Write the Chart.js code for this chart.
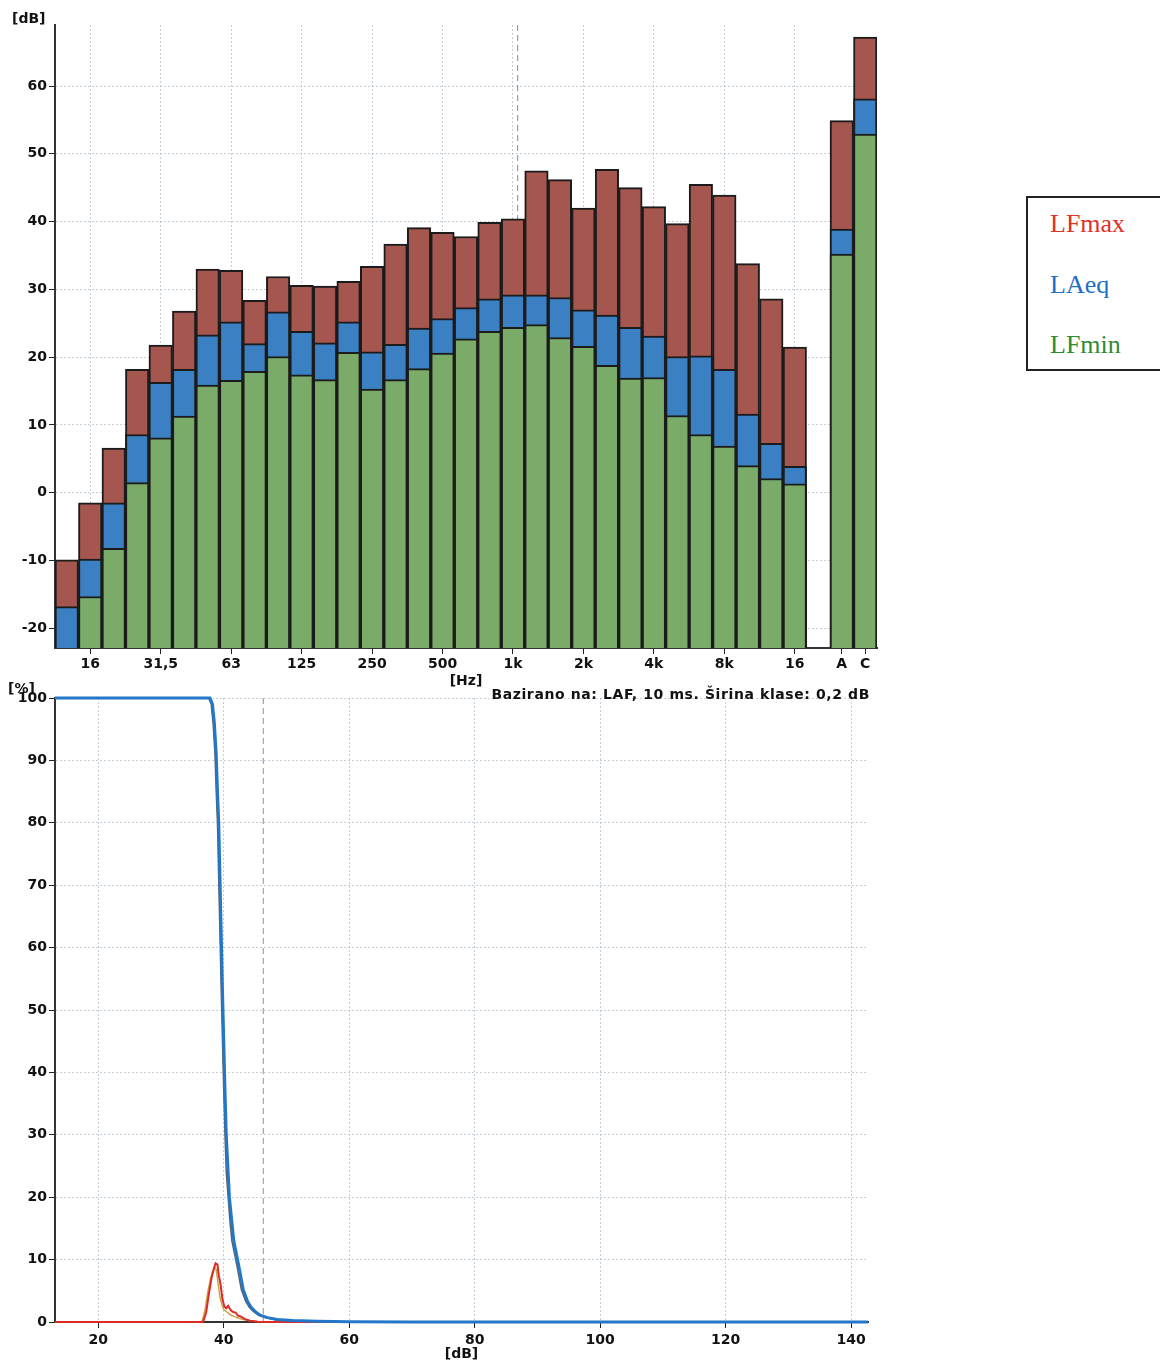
<!DOCTYPE html>
<html>
<head>
<meta charset="utf-8">
<title>Spektar i statistika</title>
<script src="https://cdn.jsdelivr.net/npm/chart.js@4.4.1/dist/chart.umd.min.js"></script>
<style>
  body { margin: 0; background: #fff; width: 1160px; height: 1363px; position: relative; overflow: hidden; }
  canvas { position: absolute; left: 0; }
  #spectrum { top: 0; }
  #stats { top: 680px; }
  .unit { position: absolute; font: bold 14px "DejaVu Sans", sans-serif; color: #111; white-space: nowrap; line-height: 14px; }
  #legend { position: absolute; left: 1026px; top: 196px; width: 150px; height: 175px; border: 2px solid #222; box-sizing: border-box; }
  #legend div { position: absolute; left: 22px; font: 26px "Liberation Serif", serif; line-height: 26px; }
</style>
</head>
<body>
<canvas id="spectrum" width="880" height="690"></canvas>
<canvas id="stats" width="880" height="683"></canvas>

<div class="unit" style="left:12px; top:11px;">[dB]</div>
<div class="unit" style="left:8px; top:681px;">[%]</div>
<div class="unit" style="right:290px; top:687px; letter-spacing:0.6px;">Bazirano na: LAF, 10 ms. Širina klase: 0,2 dB</div>

<div id="legend">
  <div style="top:13px; color:#e0302a;">LFmax</div>
  <div style="top:74px; color:#1e6ec6;">LAeq</div>
  <div style="top:134px; color:#2f8a34;">LFmin</div>
</div>

<script>
// 1/3 octave bands, an empty slot, then the A and C totals
const bands = ['12,5', '16', '20', '25', '31,5', '40', '50', '63', '80', '100', '125', '160',
  '200', '250', '315', '400', '500', '630', '800', '1k', '1,25k', '1,6k', '2k', '2,5k',
  '3,15k', '4k', '5k', '6,3k', '8k', '10k', '12,5k', '16k', '', 'A', 'C'];
const bandTicks = ['', '16', '', '', '31,5', '', '', '63', '', '', '125', '', '', '250', '', '',
  '500', '', '', '1k', '', '', '2k', '', '', '4k', '', '', '8k', '', '', '16', '', 'A', 'C'];

const lfMax = [-9.9, -1.5, 6.6, 18.2, 21.8, 26.8, 33.0, 32.8, 28.4, 31.9, 30.6, 30.5,
  31.2, 33.4, 36.7, 39.1, 38.4, 37.8, 39.9, 40.4, 47.5, 46.2, 42.0, 47.7,
  45.0, 42.2, 39.7, 45.5, 43.9, 33.8, 28.6, 21.5, null, 54.9, 67.2];
const laEq = [-16.8, -9.8, -1.5, 8.6, 16.3, 18.2, 23.3, 25.2, 22.0, 26.7, 23.8, 22.1,
  25.2, 20.8, 21.9, 24.3, 25.7, 27.3, 28.6, 29.2, 29.2, 28.8, 27.0, 26.2,
  24.4, 23.1, 20.1, 20.2, 18.2, 11.6, 7.3, 3.9, null, 38.9, 58.1];
const lfMin = [-25, -15.3, -8.2, 1.5, 8.1, 11.3, 15.9, 16.6, 17.9, 20.1, 17.4, 16.7,
  20.7, 15.3, 16.7, 18.3, 20.6, 22.7, 23.8, 24.4, 24.8, 22.9, 21.6, 18.8,
  16.9, 17.0, 11.4, 8.6, 6.9, 4.0, 2.1, 1.3, null, 35.2, 52.9];

const dbMin = -22.9, dbMax = 69;
const bandCursor = 19.2;

// level statistics (LAF), class width 0.2 dB
const cumDb = [13.1, 37.8, 38.2, 38.5, 38.8, 39.0, 39.2, 39.4, 39.6, 39.8, 40.0, 40.2, 40.4,
  40.7, 40.9, 41.3, 41.6, 42.0, 42.5, 43.1, 43.8, 44.4, 45.0, 45.8, 47.0, 48.5, 51, 55, 60, 70, 142.7];
const cumPct = [100, 100, 99, 96, 91, 85, 80, 71, 62, 53, 45, 37, 30,
  24, 20, 16, 13, 11, 8.5, 5.2, 3.3, 2.3, 1.7, 1.1, 0.7, 0.4, 0.25, 0.12, 0.05, 0.02, 0];
const cum2Db = [13.1, 37.6, 38.0, 38.3, 38.6, 38.8, 39.0, 39.2, 39.4, 39.6, 39.8, 40.0, 40.2,
  40.4, 40.7, 41.0, 41.3, 41.7, 42.2, 42.8, 43.5, 44.1, 44.7, 45.5, 46.6, 48, 50, 54, 60];
const cum2Pct = [100, 100, 99, 96, 91, 85, 80, 71, 62, 53, 45, 37, 30,
  24, 20, 16, 13, 11, 8.5, 5.2, 3.3, 2.3, 1.7, 1.1, 0.7, 0.4, 0.2, 0.1, 0.03];
const distDb = [13.1, 36.7, 37.2, 37.6, 38.1, 38.5, 38.7, 39.0, 39.2, 39.5, 39.8, 40.1, 40.4,
  40.7, 41.1, 41.5, 41.9, 42.3, 42.7, 43.3, 44.2, 45.5, 47, 142.7];
const distPct = [0, 0, 1.5, 4.3, 7.3, 8.8, 9.4, 9.2, 7.5, 6.0, 3.6, 2.5, 2.2,
  2.6, 1.9, 1.6, 1.5, 1.0, 0.9, 0.5, 0.2, 0.05, 0, 0];
const dist2Db = [13.1, 36.5, 37.0, 37.4, 37.9, 38.3, 38.5, 38.8, 39.1, 39.4, 39.7, 40.0,
  40.5, 41.0, 41.6, 42.4, 43.4, 45, 47];
const dist2Pct = [0, 0, 1.8, 4.5, 7.0, 8.3, 8.8, 8.4, 6.2, 4.0, 2.8, 2.0,
  1.6, 1.2, 0.9, 0.6, 0.3, 0.1, 0];
const levelCursor = 46.3;

const tickFont = { family: 'DejaVu Sans', size: 14, weight: 'bold' };
const gridColor = 'rgba(150,165,190,0.55)';

const toPoints = (xs, ys) => xs.map((x, i) => ({ x: x, y: ys[i] }));

// dashed vertical cursor behind the data
const cursorLine = {
  id: 'cursorLine',
  beforeDatasetsDraw(chart, args, opts) {
    const { ctx, chartArea, scales } = chart;
    const x = scales.x.getPixelForValue(opts.value);
    ctx.save();
    ctx.strokeStyle = opts.color;
    ctx.lineWidth = 1;
    ctx.setLineDash([6, 4]);
    ctx.beginPath();
    ctx.moveTo(x, chartArea.top);
    ctx.lineTo(x, chartArea.bottom);
    ctx.stroke();
    ctx.restore();
  }
};

const barStyle = { borderColor: '#1b1b1b', borderWidth: 2, grouped: false, base: dbMin,
  categoryPercentage: 1, barPercentage: 1 };

new Chart(document.getElementById('spectrum'), {
  type: 'bar',
  data: {
    labels: bands,
    datasets: [
      Object.assign({ label: 'LFmax', data: lfMax, backgroundColor: '#a5564f', order: 3 }, barStyle),
      Object.assign({ label: 'LAeq', data: laEq, backgroundColor: '#3a80c3', order: 2 }, barStyle),
      Object.assign({ label: 'LFmin', data: lfMin, backgroundColor: '#7aab69', order: 1 }, barStyle)
    ]
  },
  options: {
    responsive: false,
    animation: false,
    layout: { padding: { top: 25, right: 3, left: 0, bottom: 0 } },
    plugins: {
      legend: { display: false },
      tooltip: { enabled: false },
      cursorLine: { value: bandCursor, color: '#8a8a8a' }
    },
    scales: {
      x: {
        offset: true,
        grid: {
          offset: false,
          color: ctx => (bandTicks[ctx.index] && ctx.index < 32) ? gridColor : 'rgba(0,0,0,0)',
          tickColor: ctx => bandTicks[ctx.index] ? '#222' : 'rgba(0,0,0,0)',
          tickLength: 6
        },
        border: { color: '#333', width: 2, dash: [2, 2] },
        ticks: {
          autoSkip: false, maxRotation: 0, padding: 2, color: '#111', font: tickFont,
          callback: (v, i) => bandTicks[i]
        },
        title: { display: true, text: '[Hz]', color: '#111', font: tickFont, padding: 0 },
        afterFit: scale => { scale.height = 42; }
      },
      y: {
        min: dbMin,
        max: dbMax,
        ticks: { stepSize: 10, includeBounds: false, padding: 2, color: '#111', font: tickFont },
        grid: { color: gridColor, tickColor: '#222', tickLength: 6 },
        border: { color: '#333', width: 2, dash: [2, 2] },
        afterFit: scale => { scale.width = 55; }
      }
    }
  },
  plugins: [cursorLine]
});

// lines may sit on the axis, so let them overhang the plot edge a little
const lineStyle = { pointRadius: 0, tension: 0, fill: false, clip: 3 };

new Chart(document.getElementById('stats'), {
  type: 'line',
  data: {
    datasets: [
      Object.assign({ label: 'kumulativno', data: toPoints(cumDb, cumPct), borderColor: '#2277c8', borderWidth: 3 }, lineStyle),
      Object.assign({ label: 'kumulativno 2', data: toPoints(cum2Db, cum2Pct), borderColor: '#5a5f66', borderWidth: 1.5 }, lineStyle),
      Object.assign({ label: 'raspodjela', data: toPoints(distDb, distPct), borderColor: '#de2a24', borderWidth: 2 }, lineStyle),
      Object.assign({ label: 'raspodjela 2', data: toPoints(dist2Db, dist2Pct), borderColor: '#c9a34a', borderWidth: 1.5 }, lineStyle)
    ]
  },
  options: {
    responsive: false,
    animation: false,
    layout: { padding: { top: 18, right: 12, left: 0, bottom: 0 } },
    plugins: {
      legend: { display: false },
      tooltip: { enabled: false },
      cursorLine: { value: levelCursor, color: '#a08896' }
    },
    scales: {
      x: {
        type: 'linear',
        min: 13.1,
        max: 142.7,
        ticks: { stepSize: 20, includeBounds: false, padding: 4, color: '#111', font: tickFont },
        grid: { color: gridColor, tickColor: '#222', tickLength: 6 },
        border: { color: '#333', width: 2, dash: [2, 2] },
        title: { display: true, text: '[dB]', color: '#111', font: tickFont, padding: 0 },
        afterFit: scale => { scale.height = 41; }
      },
      y: {
        min: 0,
        max: 100,
        ticks: { stepSize: 10, padding: 2, color: '#111', font: tickFont },
        grid: { color: gridColor, tickColor: '#222', tickLength: 6 },
        border: { color: '#333', width: 2, dash: [2, 2] },
        afterFit: scale => { scale.width = 55; }
      }
    }
  },
  plugins: [cursorLine]
});
</script>
</body>
</html>
